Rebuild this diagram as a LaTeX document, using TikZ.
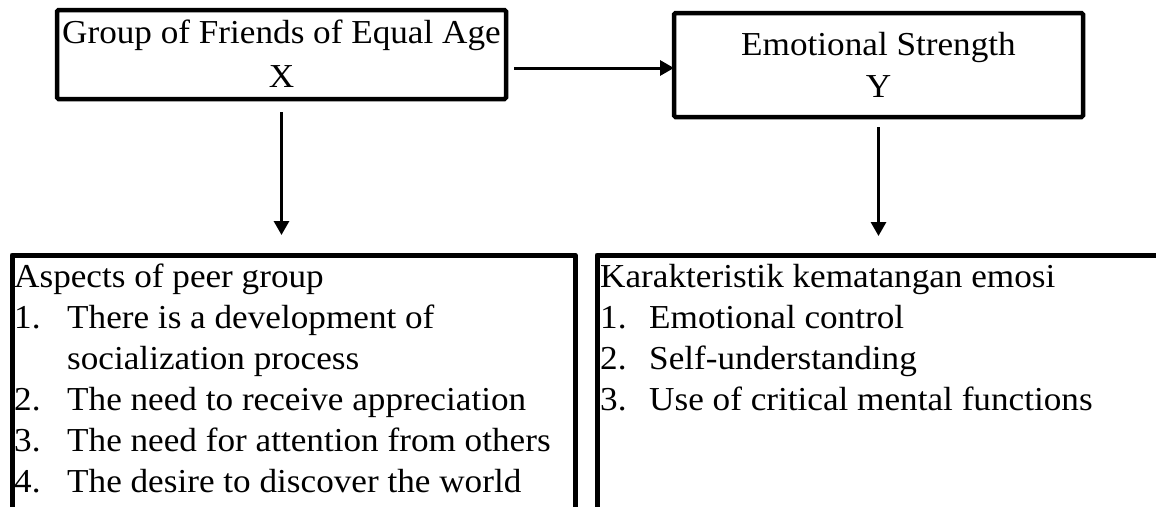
\documentclass[tikz,border=0pt]{standalone}
\usepackage{fontspec}
\setmainfont[FakeStretch=1.05]{Liberation Serif}
\usetikzlibrary{arrows.meta,calc}
\tikzset{
  topbox/.style={draw, line width=4.5pt, rounded corners=1.5pt, inner sep=0pt, outer sep=0pt},
  holder/.style={inner sep=0pt, outer sep=0pt, anchor=north west},
  openbox/.style={line width=5pt, line join=round},
  link/.style={line width=3pt, -{Triangle[length=14pt,width=15pt]}},
  ltxt/.style={anchor=base west, inner sep=0pt, font=\fontsize{33.5}{41}\selectfont},
  ctxt/.style={anchor=base, inner sep=0pt, font=\fontsize{33.5}{41}\selectfont},
}
\begin{document}
\begin{tikzpicture}[x=1pt,y=-1pt]
\useasboundingbox (0,0) rectangle (1156,506);
\clip (0,0) rectangle (1156,506);
% top boxes
\node[topbox, minimum width=449pt, minimum height=89pt] (x) at (281.5,54.5) {};
\node[topbox, minimum width=409pt, minimum height=104pt] (y) at (878.5,65) {};
\node[ctxt] (xt1) at (281.5,43) {Group of Friends of Equal Age};
\node[ctxt] (xt2) at (281.5,87) {X};
\node[ctxt] (yt1) at (878.5,55) {Emotional Strength};
\node[ctxt] (yt2) at (878.5,97) {Y};
% bottom boxes (open at the bottom)
\node[holder, minimum width=563pt, minimum height=300pt] (a) at (12,255) {};
\node[holder, minimum width=600pt, minimum height=300pt] (b) at (597,255) {};
\draw[openbox] (a.south west) -- (a.north west) -- (a.north east) -- (a.south east);
\draw[openbox] (b.south west) -- (b.north west) -- (b.north east);
% left list
\node[ltxt] (a0) at (14,287) {Aspects of peer group};
\node[ltxt] (a1n) at (14,328) {1.};
\node[ltxt] (a1) at (67,328) {There is a development of};
\node[ltxt] (a1b) at (67,369) {socialization process};
\node[ltxt] (a2n) at (14,410) {2.};
\node[ltxt] (a2) at (67,410) {The need to receive appreciation};
\node[ltxt] (a3n) at (14,451) {3.};
\node[ltxt] (a3) at (67,451) {The need for attention from others};
\node[ltxt] (a4n) at (14,492) {4.};
\node[ltxt] (a4) at (67,492) {The desire to discover the world};
% right list
\node[ltxt] (b0) at (600,287) {Karakteristik kematangan emosi};
\node[ltxt] (b1n) at (600,328) {1.};
\node[ltxt] (b1) at (649,328) {Emotional control};
\node[ltxt] (b2n) at (600,369) {2.};
\node[ltxt] (b2) at (649,369) {Self-understanding};
\node[ltxt] (b3n) at (600,410) {3.};
\node[ltxt] (b3) at (649,410) {Use of critical mental functions};
% connectors
\coordinate (ay) at (0,68);
\draw[link, shorten <=8pt] (x.east |- ay) -- (y.west |- ay);
\draw[link, shorten <=13pt, shorten >=20pt] (x.south) -- (x.south |- a.north);
\draw[link, shorten <=10pt, shorten >=19pt] (y.south) -- (y.south |- b.north);
\end{tikzpicture}
\end{document}
